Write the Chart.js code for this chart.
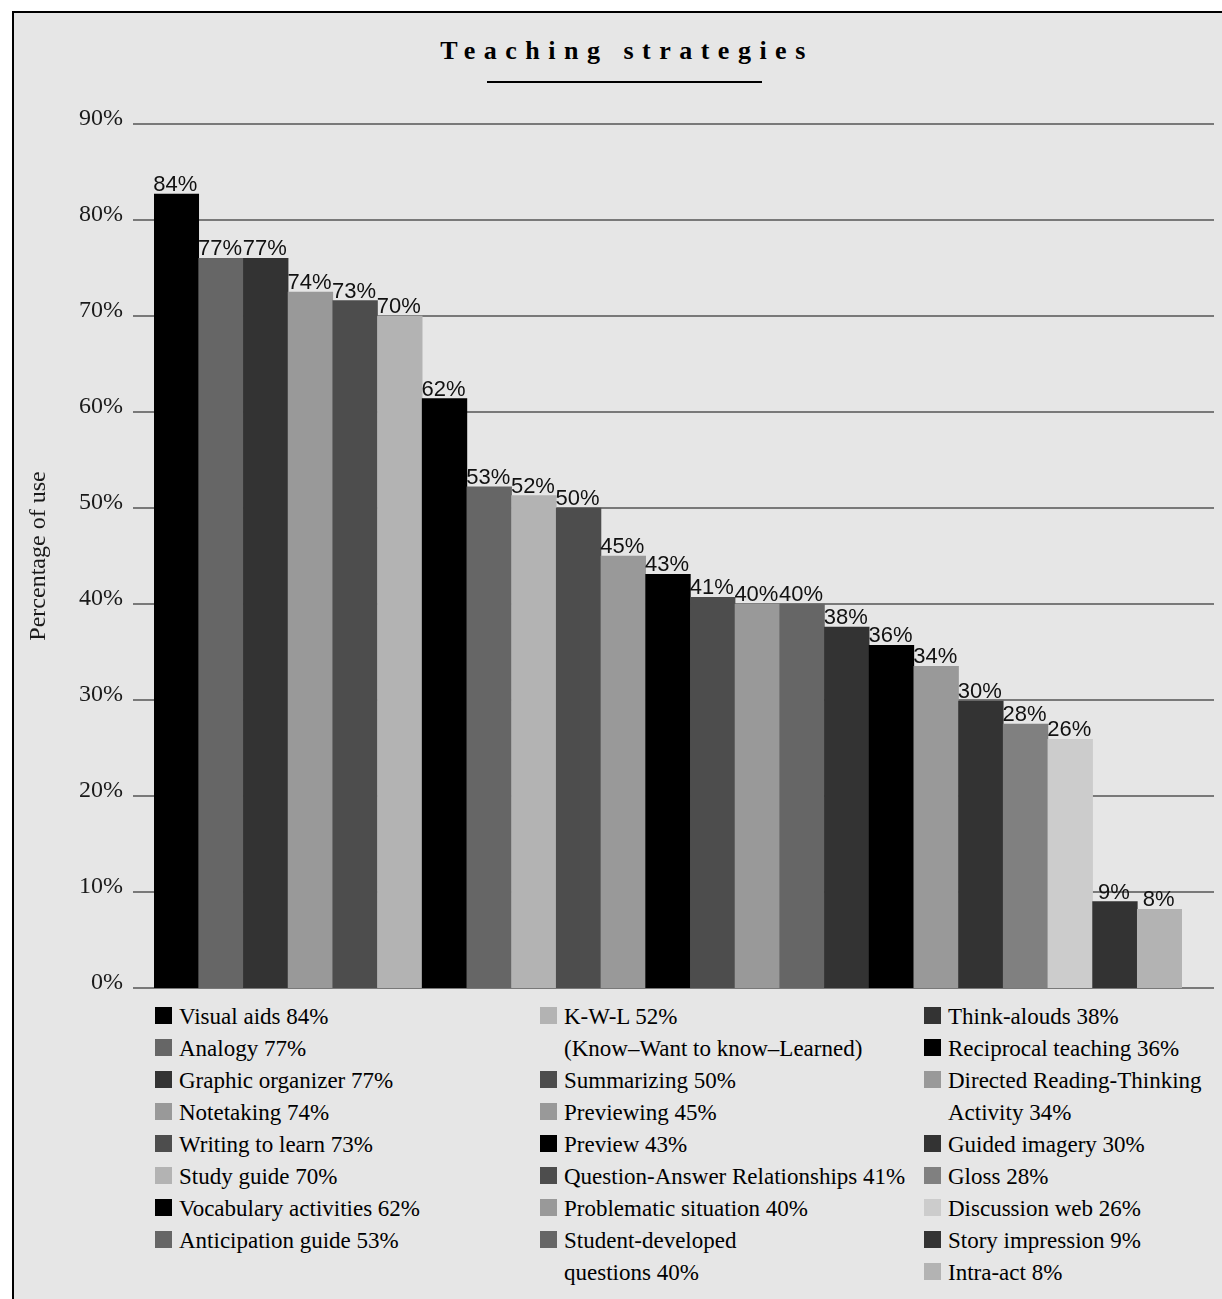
<!DOCTYPE html>
<html>
<head>
<meta charset="utf-8">
<script src="https://cdn.jsdelivr.net/npm/chart.js@4.4.1/dist/chart.umd.min.js"></script>
<style>
html,body{margin:0;padding:0;background:#fff;}
body{width:1222px;height:1299px;position:relative;overflow:hidden;}
#frame{position:absolute;left:12px;top:11px;width:1230px;height:1300px;background:#e6e6e6;border-top:2px solid #000;border-left:2px solid #000;}
#title{position:absolute;left:0;width:1222px;top:36px;text-align:center;font-family:"Liberation Serif";font-weight:bold;font-size:26px;letter-spacing:8.5px;padding-left:32px;box-sizing:border-box;color:#000;line-height:30px;}
#rule{position:absolute;left:487px;width:275px;top:81px;height:2px;background:#000;}
#chartWrap{position:absolute;left:0;top:0;width:1222px;height:1000px;}
.legcol{position:absolute;top:1001px;font-family:"Liberation Serif";font-size:23px;line-height:32px;color:#000;}
.row{white-space:nowrap;height:32px;}
.sw{display:inline-block;width:17px;height:17px;margin-right:7px;vertical-align:baseline;}
.cont{padding-left:24px;}
</style>
</head>
<body>
<div id="frame"></div>
<div id="title">Teaching strategies</div>
<div id="rule"></div>
<div id="chartWrap"><canvas id="c" width="1222" height="1000"></canvas></div>
<div id="legend"></div>
<script>
const categories = [
  "Visual aids","Analogy","Graphic organizer","Notetaking","Writing to learn","Study guide",
  "Vocabulary activities","Anticipation guide","K-W-L","Summarizing","Previewing","Preview",
  "Question-Answer Relationships","Problematic situation","Student-developed questions",
  "Think-alouds","Reciprocal teaching","Directed Reading-Thinking Activity","Guided imagery",
  "Gloss","Discussion web","Story impression","Intra-act"
];
// bar heights as drawn in the picture (percent)
const values = [82.7,76.0,76.0,72.5,71.6,70.0,61.4,52.2,51.3,50.0,45.0,43.1,40.7,40.0,40.0,37.6,35.7,33.5,29.9,27.5,25.9,9.0,8.2];
// percentages printed above the bars
const printedPct = [84,77,77,74,73,70,62,53,52,50,45,43,41,40,40,38,36,34,30,28,26,9,8];
const barColors = [
  "#000000","#666666","#333333","#999999","#4d4d4d","#b3b3b3",
  "#000000","#666666","#b3b3b3","#4d4d4d","#999999","#000000",
  "#4d4d4d","#999999","#666666","#333333","#000000","#999999",
  "#333333","#808080","#cccccc","#333333","#b3b3b3"
];
const legendText = [
  ["Visual aids 84%"],["Analogy 77%"],["Graphic organizer 77%"],["Notetaking 74%"],
  ["Writing to learn 73%"],["Study guide 70%"],["Vocabulary activities 62%"],["Anticipation guide 53%"],
  ["K-W-L 52%","(Know\u2013Want to know\u2013Learned)"],["Summarizing 50%"],["Previewing 45%"],["Preview 43%"],
  ["Question-Answer Relationships 41%"],["Problematic situation 40%"],["Student-developed","questions 40%"],
  ["Think-alouds 38%"],["Reciprocal teaching 36%"],["Directed Reading-Thinking","Activity 34%"],
  ["Guided imagery 30%"],["Gloss 28%"],["Discussion web 26%"],["Story impression 9%"],["Intra-act 8%"]
];
const legendColumns = [[0,8],[8,15],[15,23]];
const legendColumnX = [155,540,924];
const yTicks = [0,10,20,30,40,50,60,70,80,90];

// legend
const legendEl = document.getElementById('legend');
legendColumns.forEach((rng,ci)=>{
  const col = document.createElement('div');
  col.className = 'legcol';
  col.style.left = legendColumnX[ci] + 'px';
  for(let i=rng[0];i<rng[1];i++){
    legendText[i].forEach((line,li)=>{
      const r = document.createElement('div');
      r.className = 'row' + (li>0 ? ' cont' : '');
      if(li===0){
        const sw = document.createElement('span');
        sw.className = 'sw';
        sw.style.background = barColors[i];
        r.appendChild(sw);
      }
      r.appendChild(document.createTextNode(line));
      col.appendChild(r);
    });
  }
  legendEl.appendChild(col);
});

const gridPlugin = {
  id:'extGrid',
  beforeDatasetsDraw(chart){
    const {ctx, chartArea, scales:{y}} = chart;
    ctx.save();
    ctx.strokeStyle = '#555555';
    ctx.lineWidth = 1.5;
    y.ticks.forEach(t=>{
      const py = y.getPixelForValue(t.value);
      ctx.beginPath();
      ctx.moveTo(chartArea.left-21, py);
      ctx.lineTo(chartArea.right+32, py);
      ctx.stroke();
    });
    ctx.restore();
  }
};
const labelPlugin = {
  id:'barLabels',
  afterDatasetsDraw(chart){
    const {ctx} = chart;
    const meta = chart.getDatasetMeta(0);
    ctx.save();
    ctx.font = '22px "Liberation Sans"';
    ctx.textAlign = 'center';
    ctx.textBaseline = 'alphabetic';
    ctx.fillStyle = '#111111';
    meta.data.forEach((bar,i)=>{
      ctx.fillText(printedPct[i] + '%', bar.x - 1, bar.y - 3);
    });
    ctx.restore();
  }
};

new Chart(document.getElementById('c'), {
  type:'bar',
  data:{
    labels:categories,
    datasets:[{data:values, backgroundColor:barColors, borderWidth:0, categoryPercentage:1, barPercentage:1}]
  },
  options:{
    responsive:false,
    animation:false,
    devicePixelRatio:1,
    layout:{padding:{left:14, top:124, right:40, bottom:12}},
    plugins:{legend:{display:false}, title:{display:false}, tooltip:{enabled:false}},
    scales:{
      x:{
        display:false, offset:true,
        ticks:{display:false},
        grid:{display:false, drawTicks:false},
        border:{display:false},
        afterFit(s){ s.height = 0; }
      },
      y:{
        min:0, max:90,
        afterFit(s){ s.width = 140; s.paddingTop = 0; s.paddingBottom = 0; },
        afterBuildTicks(s){ s.ticks = yTicks.map(v=>({value:v})); },
        grid:{display:false, drawTicks:false},
        border:{display:false},
        ticks:{padding:31, labelOffset:-5, color:'#1a1a1a', font:{family:'Liberation Serif', size:24}, callback:v=>v+'%'},
        title:{display:true, text:'Percentage of use', color:'#1a1a1a', font:{family:'Liberation Serif', size:24}, padding:{top:10,bottom:0}}
      }
    }
  },
  plugins:[gridPlugin, labelPlugin]
});
</script>
</body>
</html>
